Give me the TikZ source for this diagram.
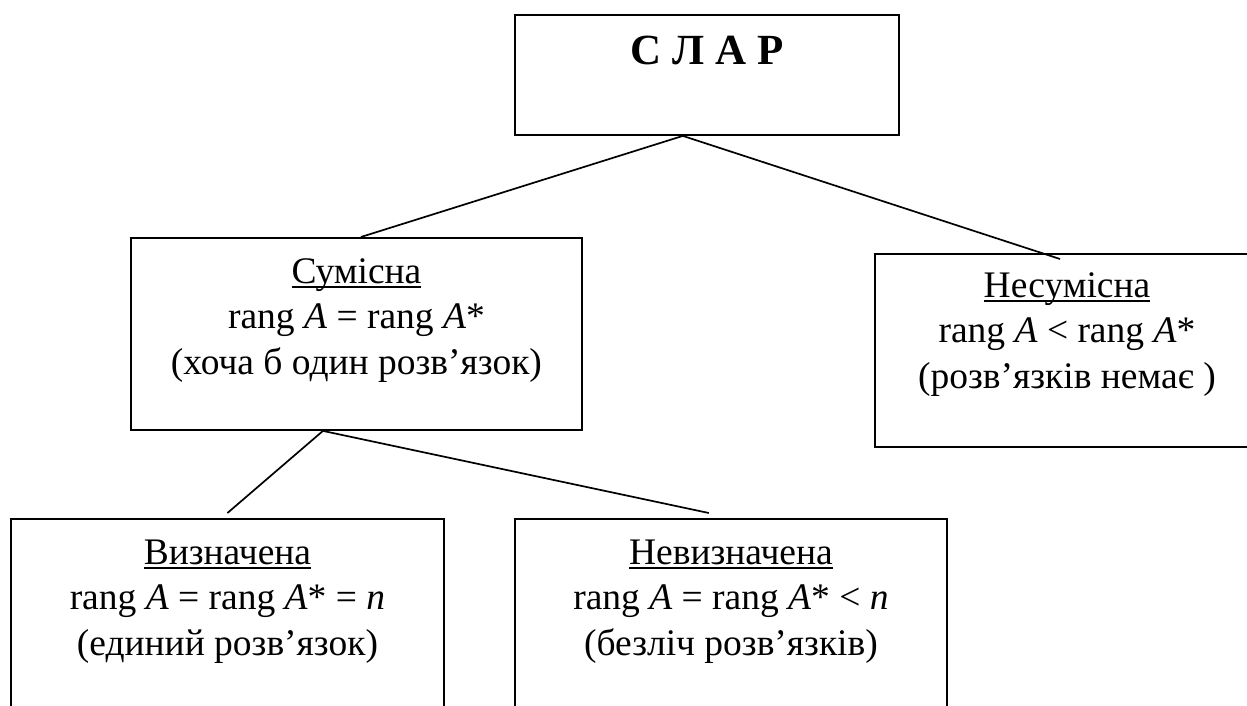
\documentclass[tikz,border=0pt]{standalone}
\usepackage{fontspec}
\setmainfont{Liberation Serif}
\usetikzlibrary{calc}
\newcommand\myul[1]{\setbox0\hbox{#1}\rlap{\rule[-5pt]{\wd0}{1.7pt}}\box0}
\begin{document}
\begin{tikzpicture}[x=1pt,y=-1pt,
  box/.style={draw, line width=1.9pt, rectangle, inner sep=0pt, anchor=north west},
  txt/.style={align=center, font=\fontsize{37.5}{45.5}\selectfont, anchor=base, inner sep=0pt},
  conn/.style={line width=1.7pt}]
\clip (0,0) rectangle (1247,706);
\fill[white] (0,0) rectangle (1247,706);
% boxes
\node[box, minimum width=384pt, minimum height=120pt] (slar) at (514,14) {};
\node[box, minimum width=451pt, minimum height=192pt] (sum) at (130,237) {};
\node[box, minimum width=384pt, minimum height=193pt] (nesum) at (874,253) {};
\node[box, minimum width=433pt, minimum height=192pt] (vyz) at (10,518) {};
\node[box, minimum width=432pt, minimum height=192pt] (nevyz) at (514,518) {};
% texts (anchor=base is the baseline of the last line)
\node[anchor=base, inner sep=0pt, font=\fontsize{43}{50}\selectfont\bfseries] (tslar) at ($(slar.north)+(0,51)$) {С Л А Р};
\node[txt] (tsum) at ($(sum.north)+(0,137)$) {\myul{Сумісна}\\rang \textit{A} = rang \textit{A}*\\(хоча б один розв’язок)};
\node[txt] (tnesum) at ($(nesum.north)+(0,135)$) {\myul{Несумісна}\\rang \textit{A} < rang \textit{A}*\\(розв’язків немає )};
\node[txt] (tvyz) at ($(vyz.north)+(0,137)$) {\myul{Визначена}\\rang \textit{A} = rang \textit{A}* = \textit{n}\\(единий розв’язок)};
\node[txt] (tnevyz) at ($(nevyz.north)+(0,137)$) {\myul{Невизначена}\\rang \textit{A} = rang \textit{A}* < \textit{n}\\(безліч розв’язків)};
% connectors
\coordinate (p0) at ($(slar.south west)!0.4375!(slar.south east)$);
\coordinate (p1) at ($(sum.north west)!0.51!(sum.north east)$);
\coordinate (p2) at ($(nesum.north west)!0.482!(nesum.north east)+(0,6)$);
\coordinate (p3) at ($(sum.south west)!0.426!(sum.south east)$);
\coordinate (p4) at ($(vyz.north)+(0,-5)$);
\coordinate (p5) at ($(nevyz.north west)!0.449!(nevyz.north east)+(0,-5)$);
\draw[conn] (p0) -- (p1);
\draw[conn] (p0) -- (p2);
\draw[conn] (p3) -- (p4);
\draw[conn] (p3) -- (p5);
\end{tikzpicture}
\end{document}
